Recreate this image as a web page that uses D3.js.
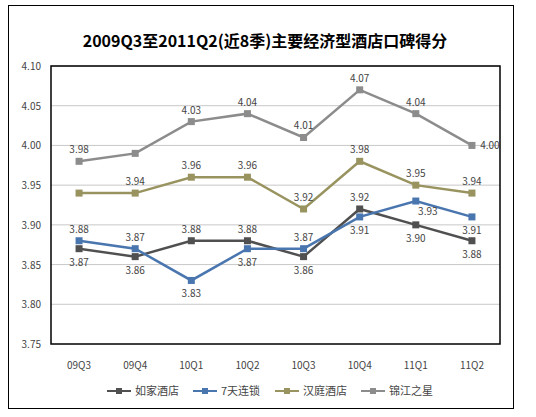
<!DOCTYPE html>
<html><head><meta charset="utf-8">
<script src="https://cdn.jsdelivr.net/npm/d3@7"></script>
<style>body{margin:0;background:#fff}text{font-family:"Noto Sans CJK SC","Liberation Sans",sans-serif}</style>
</head><body><svg id="c" width="536" height="417"></svg>
<script>
const categories=["09Q3","09Q4","10Q1","10Q2","10Q3","10Q4","11Q1","11Q2"];
const names=["如家酒店","7天连锁","汉庭酒店","锦江之星"];
const colors=["#505050","#4a76b0","#98935f","#8c8c8c"];
const rujia=[3.87,3.86,3.88,3.88,3.86,3.92,3.90,3.88];
const qitian=[3.88,3.87,3.83,3.87,3.87,3.91,3.93,3.91];
const hanting=[3.94,3.94,3.96,3.96,3.92,3.98,3.95,3.94];
const jinjiang=[3.98,3.99,4.03,4.04,4.01,4.07,4.04,4.00];
const yTicks=[3.75,3.80,3.85,3.90,3.95,4.00,4.05,4.10];
// label placement: 1 above, -1 below, 2 right-below, 3 right, 0 none
const place=[
 [-1,-1,1,1,-1,1,-1,-1],
 [1,1,-1,-1,1,-1,2,-1],
 [0,1,1,1,1,1,1,1],
 [1,0,1,1,1,1,1,3]];
const series=[rujia,qitian,hanting,jinjiang];
const svg=d3.select("#c");
svg.append("rect").attr("x",8.5).attr("y",5.5).attr("width",505).attr("height",403).attr("fill","none").attr("stroke","#000");
svg.append("text").attr("x",265).attr("y",47).attr("text-anchor","middle").attr("font-size",16).attr("font-weight","bold").text("2009Q3至2011Q2(近8季)主要经济型酒店口碑得分");
const L=51,R=500,T=66,B=344;
const x=d3.scaleBand().domain(categories).range([L,R]);
const y=d3.scaleLinear().domain([3.75,4.10]).range([B,T]);
const g=svg.append("g");
yTicks.forEach(t=>{if(t>3.75)g.append("line").attr("x1",L).attr("x2",R).attr("y1",y(t)).attr("y2",y(t)).attr("stroke","#c8c8c8");});
g.append("rect").attr("x",L).attr("y",T).attr("width",R-L).attr("height",B-T).attr("fill","none").attr("stroke","#000").attr("stroke-width",1.5);
yTicks.forEach(t=>g.append("text").attr("x",L-10).attr("y",y(t)+4).attr("text-anchor","end").attr("font-size",10).attr("fill","#444").text(t.toFixed(2)));
categories.forEach(c=>g.append("text").attr("x",x(c)+x.bandwidth()/2).attr("y",B+25).attr("text-anchor","middle").attr("font-size",10).attr("fill","#444").text(c));
const cx=c=>x(c)+x.bandwidth()/2;
const line=d3.line().x((d,i)=>cx(categories[i])).y(d=>y(d));
series.forEach((s,k)=>{
 g.append("path").attr("d",line(s)).attr("fill","none").attr("stroke",colors[k]).attr("stroke-width",2.5);
 s.forEach((v,i)=>{
  g.append("rect").attr("x",cx(categories[i])-3.5).attr("y",y(v)-3.5).attr("width",7).attr("height",7).attr("fill",colors[k]);
  const p=place[k][i];
  if(!p)return;
  let tx=cx(categories[i]),ty=p===1?y(v)-8:y(v)+17;
  if(p===2){tx+=12;ty=y(v)+14;}
  if(p===3){tx+=18;ty=y(v)+4;}
  g.append("text").attr("x",tx).attr("y",ty).attr("text-anchor","middle").attr("font-size",10).attr("fill","#444").text(v.toFixed(2));
 });
});
const lg=svg.append("g");
const lx=[107,193,275,361];
names.forEach((n,k)=>{
 lg.append("line").attr("x1",lx[k]).attr("x2",lx[k]+24).attr("y1",391).attr("y2",391).attr("stroke",colors[k]).attr("stroke-width",2);
 lg.append("rect").attr("x",lx[k]+9).attr("y",388).attr("width",6).attr("height",6).attr("fill",colors[k]);
 lg.append("text").attr("x",lx[k]+28).attr("y",395).attr("font-size",11).attr("fill","#444").text(n);
});
</script></body></html>
